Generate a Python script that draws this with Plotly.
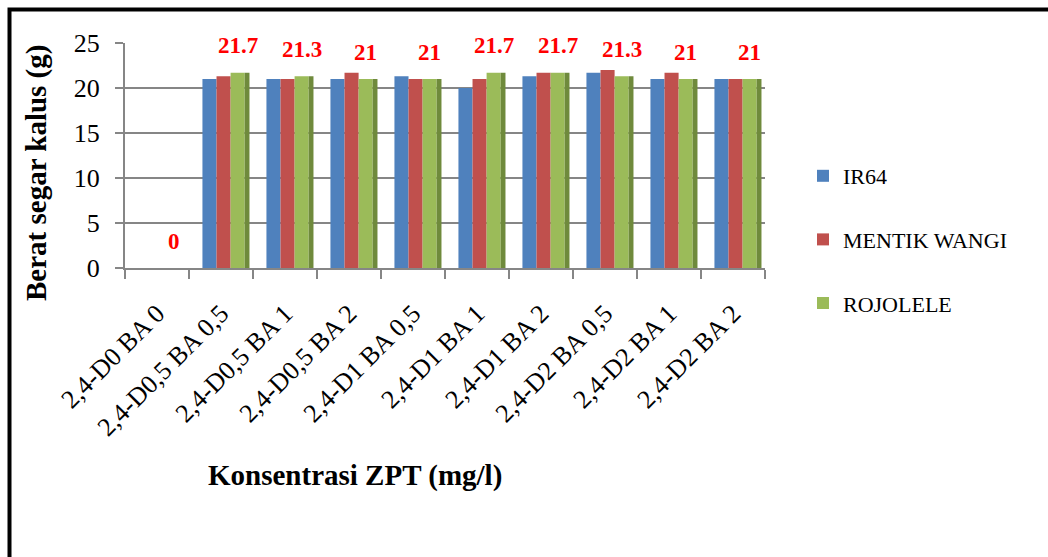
import plotly.graph_objects as go

categories = ["2,4-D0 BA 0", "2,4-D0,5 BA 0,5", "2,4-D0,5 BA 1", "2,4-D0,5 BA 2",
              "2,4-D1 BA 0,5", "2,4-D1 BA 1", "2,4-D1 BA 2", "2,4-D2 BA 0,5",
              "2,4-D2 BA 1", "2,4-D2 BA 2"]
ir64 = [0, 21.0, 21.0, 21.0, 21.3, 20.0, 21.3, 21.7, 21.0, 21.0]
mentik_wangi = [0, 21.3, 21.0, 21.7, 21.0, 21.0, 21.7, 22.0, 21.7, 21.0]
rojolele = [0, 21.7, 21.3, 21.0, 21.0, 21.7, 21.7, 21.3, 21.0, 21.0]
series_names = ["IR64", "MENTIK WANGI", "ROJOLELE"]
label_values = rojolele
label_texts = ["0", "21.7", "21.3", "21", "21", "21.7", "21.7", "21.3", "21", "21"]

colors = ["#4F81BD", "#C0504D", "#9BBB59"]
side_color = "#6F8A3C"
FONT = "Liberation Serif"
GRAY = "#868686"

W, H = 1048, 557
L, R, T, B = 125, 283, 43, 289
pw, ph = W - L - R, H - T - B

def px2x(px):
    return (px - L) / pw

def py2y(py):
    return (H - B - py) / ph

BAR_W = 0.22
offsets = [-0.29, -0.07, 0.15]

fig = go.Figure()
for name, vals, col, off in zip(series_names, [ir64, mentik_wangi, rojolele], colors, offsets):
    fig.add_trace(go.Bar(
        x=categories, y=vals, name=name, legendgroup=name,
        width=BAR_W, offset=off,
        marker=dict(color=col, line=dict(width=0)),
    ))
# darker side face of the last (green) column in each group
fig.add_trace(go.Bar(
    x=categories, y=rojolele, name="ROJOLELE side", showlegend=False,
    hoverinfo="skip", width=0.075, offset=offsets[2] + BAR_W,
    marker=dict(color=side_color, line=dict(width=0)),
))

annotations = []
for c, v, t in zip(categories, label_values, label_texts):
    annotations.append(dict(
        x=c, y=v, xref="x", yref="y", text="<b>%s</b>" % t, showarrow=False,
        xshift=(offsets[2] + BAR_W / 2) * pw / len(categories), yshift=27,
        xanchor="center", yanchor="middle",
        font=dict(family=FONT, size=23, color="#FF0000"),
    ))

annotations.append(dict(
    x=px2x(36), y=py2y(173), xref="paper", yref="paper",
    text="<b>Berat segar kalus (g)</b>", textangle=-90, showarrow=False,
    xanchor="center", yanchor="middle",
    font=dict(family=FONT, size=29, color="black"),
))
annotations.append(dict(
    x=px2x(355), y=py2y(475), xref="paper", yref="paper",
    text="<b>Konsentrasi ZPT (mg/l)</b>", showarrow=False,
    xanchor="center", yanchor="middle",
    font=dict(family=FONT, size=29, color="black"),
))

fig.update_layout(
    width=W, height=H,
    margin=dict(l=L, r=R, t=T, b=B, pad=0),
    paper_bgcolor="white", plot_bgcolor="white",
    barmode="overlay",
    font=dict(family=FONT, color="black"),
    showlegend=True,
    legend=dict(
        xref="container", yref="container",
        x=803 / W, y=1 - 155 / H, xanchor="left", yanchor="top",
        font=dict(family=FONT, size=22, color="black"),
        tracegroupgap=32, traceorder="grouped",
        bgcolor="rgba(0,0,0,0)",
    ),
    annotations=annotations,
    shapes=[dict(
        type="rect", xref="paper", yref="paper",
        x0=px2x(9.5), x1=px2x(1100), y0=py2y(9.5), y1=py2y(620),
        line=dict(color="black", width=4), fillcolor="rgba(0,0,0,0)", layer="above",
    )],
)

fig.update_xaxes(
    showline=True, linecolor=GRAY, linewidth=2,
    ticks="outside", tickson="boundaries", ticklen=9, tickcolor=GRAY, tickwidth=2,
    tickangle=-45, tickfont=dict(family=FONT, size=26, color="black"),
    ticklabelstandoff=18,
    showgrid=False,
)
fig.update_yaxes(
    range=[0, 25], dtick=5, tick0=0,
    showline=True, linecolor=GRAY, linewidth=2,
    ticks="outside", ticklen=8, tickcolor=GRAY, tickwidth=2,
    tickfont=dict(family=FONT, size=26, color="black"),
    ticklabelstandoff=10,
    showgrid=True, gridcolor=GRAY, gridwidth=2,
    zeroline=False,
)

fig.write_html("out.html", config={"displayModeBar": False},
               post_script="document.body.style.margin='0';")
